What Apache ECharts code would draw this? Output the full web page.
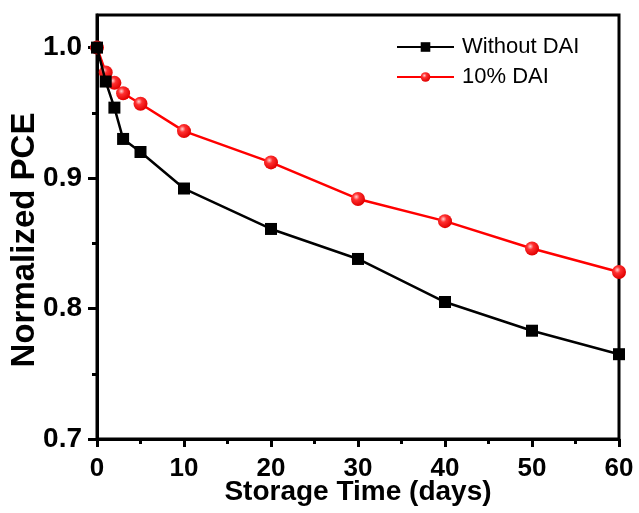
<!DOCTYPE html>
<html><head><meta charset="utf-8">
<script src="https://cdn.jsdelivr.net/npm/echarts@6/dist/echarts.min.js"></script>
<style>html,body{margin:0;padding:0;background:#fff}#c{width:639px;height:513px}</style>
</head><body><div id="c"></div>
<script>
const days = [0, 1, 2, 3, 5, 10, 20, 30, 40, 50, 60];
const withoutDAI = [1.0, 0.974, 0.954, 0.930, 0.920, 0.892, 0.861, 0.838, 0.805, 0.783, 0.765];
const withDAI = [1.0, 0.981, 0.973, 0.965, 0.957, 0.936, 0.912, 0.884, 0.867, 0.846, 0.828];
const yLabels = [0.7, 0.8, 0.9, 1.0];
const yMinor = [0.75, 0.85, 0.95];
const seriesNames = ['Without DAI', '10% DAI'];

const font = 'Liberation Sans, Arial, sans-serif';
const chart = echarts.init(document.getElementById('c'));
const pair = (xs, ys) => xs.map((x, i) => [x, ys[i]]);
const redBall = {
  type: 'radial', x: 0.38, y: 0.35, r: 0.65,
  colorStops: [{offset: 0, color: '#ffd0d0'}, {offset: 0.35, color: '#ff3030'}, {offset: 1, color: '#e00000'}]
};
chart.setOption({
  animation: false,
  grid: {left: 97, right: 20, top: 15, bottom: 74, show: true, borderColor: '#000', borderWidth: 3,
    backgroundColor: 'transparent', containLabel: false, outerBoundsMode: 'none'},
  legend: {
    left: 391, top: 31, orient: 'vertical', itemWidth: 57, itemHeight: 12, itemGap: 8,
    textStyle: {fontFamily: font, fontSize: 22, color: '#000', padding: [0, 0, 0, 3]},
    data: seriesNames
  },
  xAxis: {
    type: 'value', min: 0, max: 60, interval: 10,
    name: 'Storage Time (days)', nameLocation: 'middle', nameGap: 39, nameMoveOverlap: false,
    nameTextStyle: {fontFamily: font, fontSize: 28, fontWeight: 'bold', color: '#000'},
    axisLine: {lineStyle: {color: '#000', width: 3}},
    axisTick: {length: 8, lineStyle: {color: '#000', width: 3}},
    minorTick: {show: true, splitNumber: 2, length: 5, lineStyle: {color: '#000', width: 3}},
    axisLabel: {fontFamily: font, fontSize: 26, fontWeight: 'bold', color: '#000', margin: 17},
    splitLine: {show: false}
  },
  yAxis: [{
    type: 'value', min: 0.7, max: 1.025,
    name: 'Normalized PCE', nameLocation: 'middle', nameGap: 56, nameMoveOverlap: false,
    nameTextStyle: {fontFamily: font, fontSize: 33, fontWeight: 'bold', color: '#000', padding: [0, 26, 0, 0]},
    axisLine: {lineStyle: {color: '#000', width: 3}},
    axisTick: {length: 9, customValues: yLabels, lineStyle: {color: '#000', width: 3}},
    axisLabel: {customValues: yLabels, fontFamily: font, fontSize: 28, fontWeight: 'bold', color: '#000', margin: 15,
      formatter: v => v.toFixed(1)},
    splitLine: {show: false}
  }, {
    type: 'value', min: 0.7, max: 1.025, position: 'left',
    axisLine: {show: false},
    axisTick: {length: 5, customValues: yMinor, lineStyle: {color: '#000', width: 3}},
    axisLabel: {show: false},
    splitLine: {show: false}
  }],
  series: [{
    name: seriesNames[0], type: 'line', data: pair(days, withoutDAI),
    symbol: 'rect', symbolSize: 12,
    lineStyle: {color: '#000', width: 2.5},
    itemStyle: {color: '#000'}, z: 3
  }, {
    name: seriesNames[1], type: 'line', data: pair(days, withDAI),
    symbol: 'circle', symbolSize: 14,
    lineStyle: {color: '#ff0000', width: 2.5},
    itemStyle: {color: redBall, borderWidth: 0}, z: 2
  }]
});
</script></body></html>
